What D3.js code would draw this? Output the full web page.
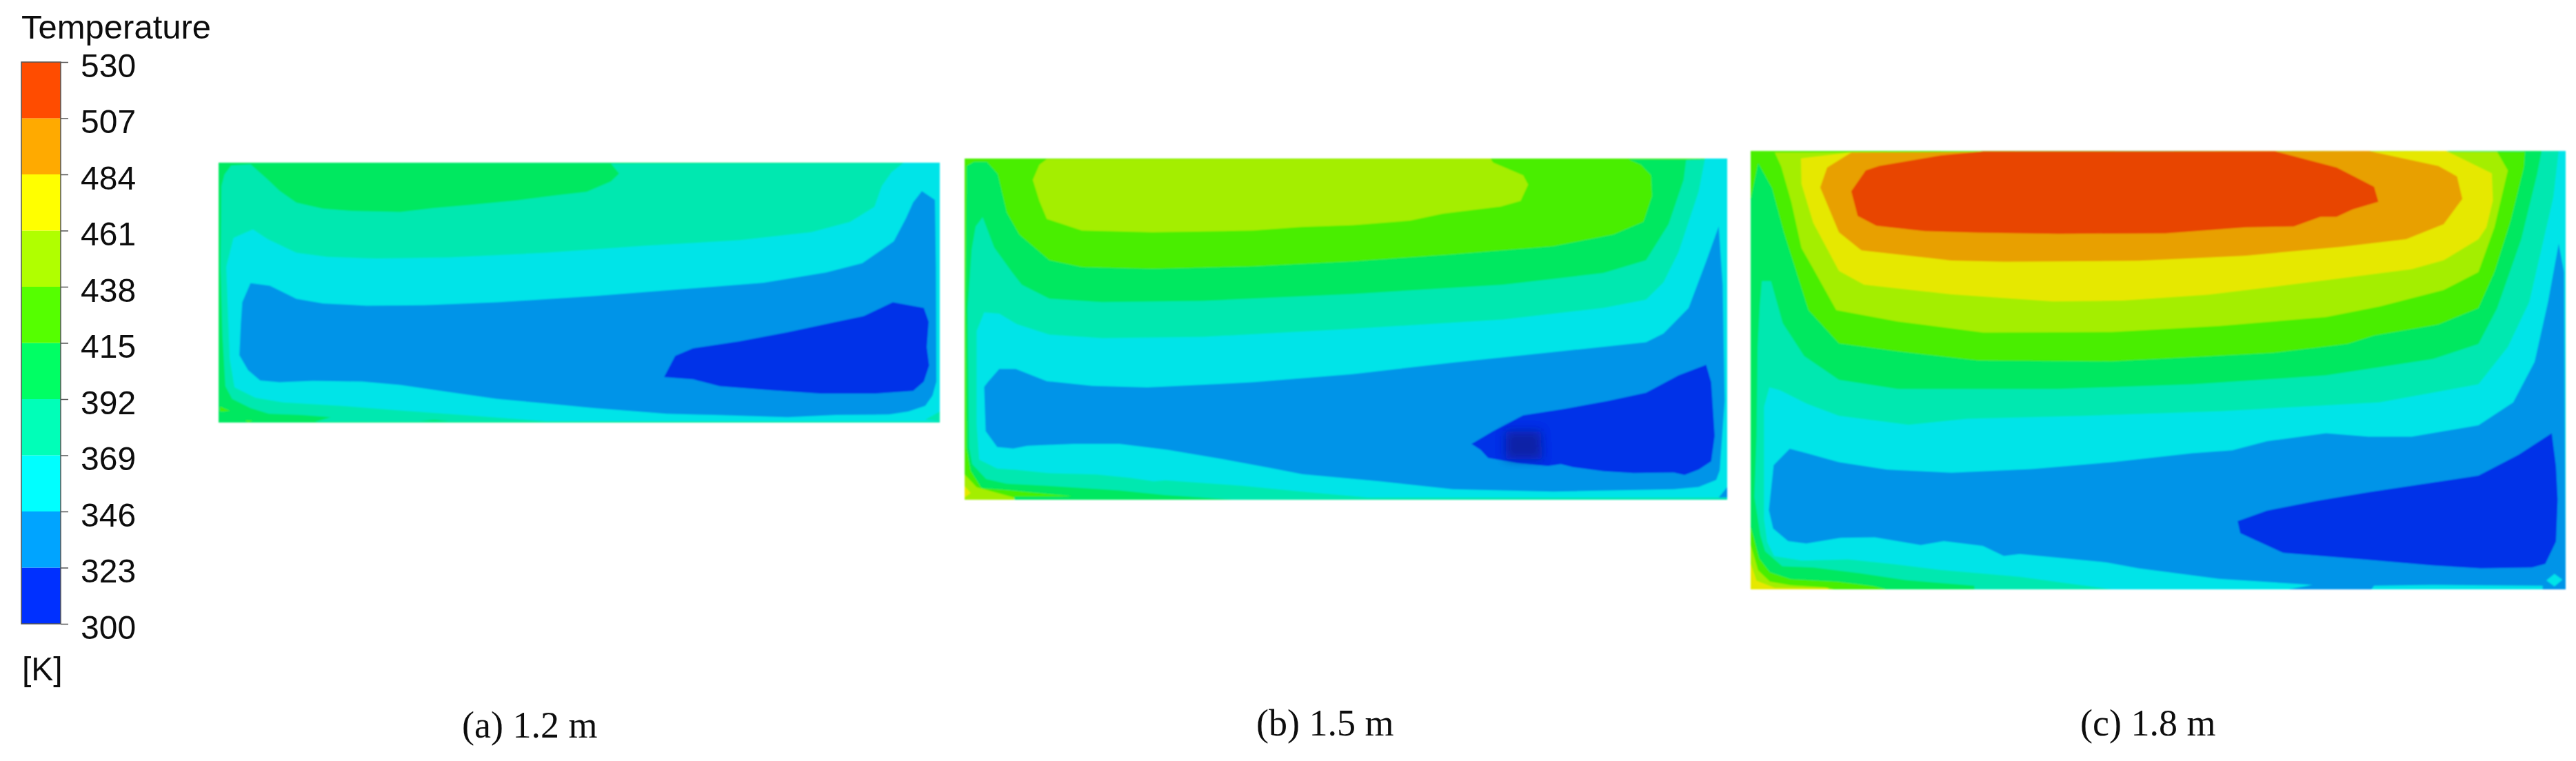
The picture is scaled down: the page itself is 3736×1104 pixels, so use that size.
<!DOCTYPE html>
<html><head><meta charset="utf-8">
<script src="https://cdn.jsdelivr.net/npm/d3@7"></script>
<style>html,body{margin:0;padding:0;background:#fff}svg{display:block}</style>
</head><body><svg id="c" width="3736" height="1104"></svg>
<script>
// Temperature levels of the legend [K]
const levels = [300,323,346,369,392,415,438,461,484,507,530];
const legendColors = ["#0030ff","#00a4ff","#00ffff","#00ffb8","#00ff64","#55ff00","#b0ff00","#ffff00","#ffaa00","#ff4c00"];
const fieldColors  = ["#0030e8","#0094e8","#00e4e8","#00e8b0","#00e860","#48ee00","#a4ee00","#e6e800","#e8a000","#e84400"];
const captions = ["(a) 1.2 m","(b) 1.5 m","(c) 1.8 m"];

// Isotherm outlines: each entry is [band temperature, outline]
const sectionA = [
 [403,[[24,48],[1515,48],[1515,1178],[24,1178]]],
 [380,[[50,60],[90,55],[1515,48],[1515,1178],[223,1175],[256,1155],[195,1145],[128,1140],[90,1115],[52,1075],[38,1020],[32,800],[28,500],[30,150],[36,100]]],
 [403,[[90,55],[835,52],[852,95],[835,130],[785,175],[720,190],[640,212],[540,232],[470,245],[400,262],[300,258],[240,248],[185,222],[150,170],[125,120]]],
 [357,[[1440,48],[1515,48],[1515,1130],[1485,1165],[1515,1172],[700,1172],[528,1145],[395,1125],[276,1105],[157,1090],[100,1070],[57,1025],[47,900],[40,500],[55,375],[95,338],[125,380],[185,440],[250,458],[350,465],[500,460],[700,440],[900,410],[1100,385],[1250,350],[1330,305],[1380,240],[1395,150],[1415,90]]],
 [334,[[1478,172],[1505,210],[1507,500],[1508,1000],[1500,1060],[1485,1105],[1450,1130],[1410,1143],[1300,1145],[1200,1155],[1050,1145],[950,1140],[800,1115],[700,1095],[600,1075],[500,1045],[400,1015],[320,1000],[220,997],[150,1003],[110,995],[85,950],[67,885],[70,750],[73,655],[90,572],[130,583],[185,640],[240,660],[330,670],[450,668],[600,655],[800,628],[1000,595],[1150,570],[1280,525],[1355,485],[1420,390],[1445,290],[1460,220]]],
 [311,[[1418,655],[1482,680],[1492,740],[1488,850],[1493,930],[1482,1000],[1460,1040],[1380,1052],[1270,1052],[1170,1038],[1060,1020],[1005,990],[945,980],[968,888],[1005,855],[1100,825],[1200,785],[1290,745],[1358,715]]],
 [426,[[27,1108],[48,1128],[27,1130]]],
 [426,[[78,1168],[95,1170],[85,1176]]],
 [403,[[440,1172],[470,1166],[500,1172]]]
];
const sectionB = [
 [426,[[26,58],[1547,58],[1547,1525],[26,1525]]],
 [449,[[190,60],[1075,58],[1080,75],[1140,130],[1150,170],[1135,240],[1095,265],[980,295],[915,325],[800,345],[700,352],[600,368],[400,375],[260,368],[190,318],[175,240],[162,150],[175,85]]],
 [403,[[30,90],[45,72],[70,72],[92,125],[110,290],[135,385],[195,495],[260,525],[400,532],[600,522],[800,500],[1000,470],[1200,435],[1320,385],[1380,330],[1397,220],[1395,130],[1375,85],[1350,62],[1465,62],[1547,58],[1547,1525],[125,1525],[125,1512],[243,1510],[105,1482],[60,1475],[38,1400],[30,1300],[28,700]]],
 [380,[[62,310],[85,440],[120,545],[140,600],[195,660],[300,675],[500,670],[800,640],[1100,600],[1300,550],[1385,495],[1430,340],[1460,150],[1465,65],[1547,58],[1547,1525],[560,1524],[426,1505],[335,1485],[196,1466],[110,1456],[69,1436],[41,1372],[35,1300],[32,700],[40,450],[48,350]]],
 [357,[[65,720],[95,725],[130,770],[195,815],[300,830],[500,825],[800,790],[1100,750],[1300,700],[1385,665],[1420,590],[1450,460],[1490,200],[1503,55],[1547,52],[1547,1515],[830,1515],[700,1490],[580,1465],[426,1441],[403,1446],[357,1431],[288,1416],[196,1411],[128,1396],[91,1391],[55,1352],[50,1200],[50,800]]],
 [334,[[95,963],[128,963],[190,1015],[280,1035],[390,1042],[600,1020],[800,985],[1000,935],[1200,890],[1385,848],[1420,810],[1470,700],[1505,500],[1530,350],[1538,600],[1542,1100],[1532,1400],[1525,1440],[1490,1470],[1440,1480],[1200,1490],[1000,1480],[850,1445],[700,1415],[640,1390],[540,1350],[430,1310],[335,1285],[243,1285],[151,1293],[123,1305],[91,1298],[68,1230],[65,1040],[72,1020]]],
 [334,[[1547,1470],[1530,1515],[1547,1515]]],
 [311,[[1505,945],[1515,1020],[1522,1250],[1515,1360],[1490,1395],[1462,1418],[1440,1408],[1360,1410],[1300,1402],[1240,1385],[1215,1372],[1190,1380],[1130,1368],[1070,1345],[1055,1310],[1037,1285],[1080,1230],[1140,1162],[1220,1135],[1310,1100],[1385,1065],[1450,990]]],
 [449,[[26,1416],[50,1471],[125,1515],[125,1525],[26,1525]]],
 [472,[[26,1466],[38,1496],[26,1515]]]
];
const sectionC = [
 [403,[[25,45],[1548,45],[1548,1510],[25,1510]]],
 [426,[[25,45],[1472,48],[1470,100],[1445,280],[1415,450],[1385,570],[1310,625],[1190,662],[1140,690],[1000,720],[700,748],[450,745],[300,715],[190,688],[133,577],[106,424],[87,317],[65,170],[39,86],[25,209]]],
 [449,[[70,50],[1420,48],[1440,110],[1415,300],[1385,450],[1320,510],[1200,565],[1100,600],[900,630],[700,650],[460,652],[300,615],[185,577],[142,439],[120,370],[101,216],[82,97]]],
 [472,[[119,70],[210,50],[1325,45],[1410,120],[1412,210],[1400,300],[1385,340],[1320,410],[1260,440],[1130,470],[1020,495],[880,525],[720,545],[590,548],[400,524],[237,492],[190,446],[142,285],[120,155]]],
 [495,[[213,50],[1180,45],[1310,95],[1345,130],[1355,205],[1320,290],[1250,340],[1130,365],[950,395],[750,412],[500,415],[400,411],[232,377],[190,317],[155,167],[168,100]]],
 [518,[[460,46],[1005,46],[1120,100],[1190,165],[1198,215],[1150,240],[1120,265],[1090,265],[1040,297],[950,300],[800,320],[600,322],[450,318],[350,313],[260,295],[225,262],[213,180],[240,110],[265,95],[380,60]]],
 [380,[[46,480],[63,480],[85,620],[125,730],[190,810],[300,840],[600,840],[850,825],[1100,795],[1300,740],[1385,690],[1420,570],[1465,340],[1495,120],[1503,45],[1548,45],[1548,1510],[443,1510],[443,1498],[314,1479],[228,1456],[142,1437],[84,1433],[52,1383],[43,1329],[32,1200],[36,1000],[38,700],[42,560]]],
 [357,[[60,835],[80,845],[130,890],[190,930],[320,960],[430,940],[650,930],[900,915],[1200,885],[1385,825],[1440,700],[1480,550],[1525,200],[1535,45],[1548,45],[1548,1510],[700,1510],[528,1468],[379,1445],[293,1426],[207,1410],[121,1414],[69,1399],[56,1352],[50,1275],[50,900]]],
 [334,[[98,1040],[130,1055],[190,1085],[280,1110],[400,1120],[550,1108],[700,1085],[850,1055],[925,1045],[990,1015],[1100,988],[1180,1000],[1260,1000],[1385,962],[1450,885],[1490,750],[1515,550],[1535,355],[1545,450],[1548,1510],[1030,1510],[1075,1495],[900,1475],[750,1440],[690,1420],[528,1392],[498,1398],[459,1365],[386,1349],[343,1362],[257,1336],[193,1338],[129,1357],[95,1349],[67,1307],[59,1245],[68,1095]]],
 [357,[[1185,1510],[1190,1498],[1300,1495],[1505,1498],[1505,1510]]],
 [311,[[1522,988],[1530,1100],[1533,1210],[1530,1350],[1510,1425],[1485,1437],[1390,1440],[1300,1430],[1170,1410],[1020,1388],[940,1322],[935,1282],[990,1247],[1080,1215],[1180,1185],[1385,1130],[1460,1060]]],
 [357,[[1527,1458],[1542,1478],[1527,1500],[1512,1480]]],
 [426,[[25,1300],[31,1338],[41,1407],[61,1453],[100,1476],[186,1484],[254,1499],[280,1510],[25,1510]]],
 [449,[[25,1361],[39,1446],[61,1484],[100,1496],[164,1503],[181,1510],[25,1510]]],
 [472,[[25,1423],[36,1481],[70,1505],[170,1506],[170,1510],[25,1510]]]
];
// Reading window of each panel in its source units
const sectionDomains = [[[24,1515],[48,1178]],[[26,1547],[58,1525]],[[25,1548],[45,1510]]];
const sectionData = [sectionA,sectionB,sectionC];
// very cold spot in panel (b)
const coldSpotB = [[1105,1230],[1175,1230],[1178,1350],[1105,1350]];

const svg = d3.select("#c");
const defs = svg.append("defs");
defs.append("filter").attr("id","soft").attr("x","-2%").attr("y","-2%").attr("width","104%").attr("height","104%")
  .append("feGaussianBlur").attr("stdDeviation",1.3);
defs.append("filter").attr("id","softText").append("feGaussianBlur").attr("stdDeviation",0.7);
defs.append("filter").attr("id","spot").attr("x","-50%").attr("y","-50%").attr("width","200%").attr("height","200%")
  .append("feGaussianBlur").attr("stdDeviation",7);

const fieldScale = d3.scaleThreshold().domain(levels.slice(1,-1)).range(fieldColors);
const legendScale = d3.scaleThreshold().domain(levels.slice(1,-1)).range(legendColors);

// Panels
const panelBoxes = [{x:[317,1363],y:[236,613],cx:670,by:1070},{x:[1399,2505],y:[230,725],cx:1822,by:1067},{x:[2539,3721],y:[219,855],cx:3017,by:1067}];
sectionData.forEach((layers,i)=>{
  const box = panelBoxes[i], dom = sectionDomains[i];
  const sx = d3.scaleLinear().domain(dom[0]).range(box.x);
  const sy = d3.scaleLinear().domain(dom[1]).range(box.y);
  const line = d3.line().x(d=>sx(d[0])).y(d=>sy(d[1])).curve(d3.curveLinearClosed);
  const id = "clip"+i;
  defs.append("clipPath").attr("id",id).append("rect")
    .attr("x",box.x[0]).attr("y",box.y[0]).attr("width",box.x[1]-box.x[0]).attr("height",box.y[1]-box.y[0]);
  const g = svg.append("g").attr("filter","url(#soft)").append("g").attr("clip-path",`url(#${id})`);
  g.selectAll("path").data(layers).join("path")
    .attr("d",d=>line(d[1])).attr("fill",d=>fieldScale(d[0]));
  if(i===1){
    g.append("path").attr("d",line(coldSpotB)).attr("fill","#0a1f8c").attr("opacity",0.7).attr("filter","url(#spot)");
  }
  svg.append("text").attr("x",box.cx).attr("y",box.by)
    .attr("font-family","'Liberation Serif'").attr("font-size",54)
    .attr("fill","#111").attr("filter","url(#softText)").text(captions[i]);
});

// Legend
const yLegend = d3.scaleLinear().domain([300,530]).range([905,90]);
const legend = svg.append("g");
legend.selectAll("rect.band").data(d3.pairs(levels)).join("rect").attr("class","band")
  .attr("x",31).attr("width",57)
  .attr("y",d=>yLegend(d[1])).attr("height",d=>yLegend(d[0])-yLegend(d[1]))
  .attr("fill",d=>legendScale(d[0]));
legend.append("rect").attr("x",31).attr("y",90).attr("width",57).attr("height",815)
  .attr("fill","none").attr("stroke","#555").attr("stroke-width",1.5);
const axis = d3.axisRight(yLegend).tickValues(levels).tickSize(11).tickPadding(18).tickFormat(d3.format("d"));
const ag = legend.append("g").attr("transform","translate(88,0)").call(axis);
ag.select(".domain").remove();
ag.selectAll("line").attr("stroke","#555").attr("stroke-width",1.5);
ag.selectAll("text").attr("font-family","'Liberation Sans'").attr("font-size",48).attr("fill","#111")
  .attr("dy",null).attr("y",null).attr("transform","translate(0,21)").attr("filter","url(#softText)");
legend.append("text").attr("x",31).attr("y",56).attr("font-family","'Liberation Sans'").attr("font-size",49)
  .attr("fill","#111").attr("filter","url(#softText)").text("Temperature");
legend.append("text").attr("x",32).attr("y",987).attr("font-family","'Liberation Sans'").attr("font-size",48)
  .attr("fill","#111").attr("filter","url(#softText)").text("[K]");
</script></body></html>
